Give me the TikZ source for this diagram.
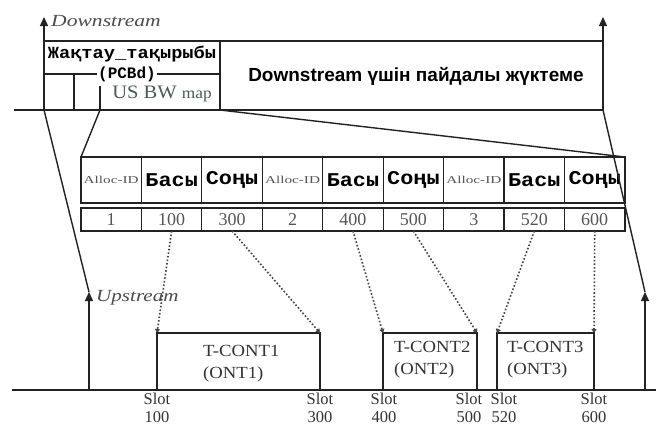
\documentclass[tikz,border=0pt]{standalone}
\usepackage{fontspec}
\setmainfont{Liberation Serif}
\newfontfamily\monofont{Liberation Mono}
\newfontfamily\sansfont{Liberation Sans}
\usetikzlibrary{arrows.meta}
\definecolor{txtgray}{HTML}{555555}
\definecolor{mapcol}{HTML}{4B5A55}
\definecolor{lncol}{HTML}{222222}
\definecolor{dotcol}{HTML}{444444}
\tikzset{
  mainline/.style={line width=1.4pt, draw=lncol},
  bigarrow/.style={mainline, -{Triangle[width=8pt,length=9pt]}},
  cellbox/.style={draw=lncol, line width=1.2pt, minimum width=60.44pt, inner sep=0pt, outer sep=0pt},
  headcell/.style={cellbox, minimum height=46pt},
  valcell/.style={cellbox, minimum height=23pt, font=\fontsize{18}{18}\selectfont, text=txtgray},
  dotarrow/.style={draw=dotcol, line width=1.6pt, dotted, -{Triangle[width=5pt,length=4pt]}},
  tcbox/.style={draw=lncol, line width=1.4pt, inner sep=0pt, outer sep=0pt, anchor=south west},
  tctext/.style={anchor=north west, align=left, inner sep=0pt, font=\fontsize{17}{22}\selectfont, text=black!80},
  slottext/.style={anchor=north, align=center, inner sep=0pt, font=\fontsize{16.5}{18}\selectfont, text=black!80},
  dirlabel/.style={anchor=west, inner sep=0pt, font=\itshape\fontsize{17}{17}\selectfont, text=black!70},
}
\begin{document}
\begin{tikzpicture}[x=1pt,y=-1pt]
\useasboundingbox (0,0) rectangle (656,429);
\fill[white] (0,0) rectangle (656,429);

% key coordinates
\coordinate (dsL) at (44,110);
\coordinate (dsLtip) at (44,17);
\coordinate (dsR) at (603,110);
\coordinate (dsRtip) at (603,17);
\coordinate (baseL) at (14,110);
\coordinate (pcbdBR) at (220,110);
\coordinate (pcbdTR) at (220,41);
\coordinate (frameTL) at (44,41);
\coordinate (frameTR) at (603,41);
\coordinate (pcL1) at (44,74);
\coordinate (pcL2) at (97,74);
\coordinate (pcR1) at (157,74);
\coordinate (pcR2) at (220,74);
\coordinate (v1t) at (74,74);
\coordinate (v1b) at (74,110);
\coordinate (v2t) at (100,86);
\coordinate (v2b) at (100,110);
\coordinate (usL) at (89,390);
\coordinate (usLtip) at (89,292);
\coordinate (usR) at (645,390);
\coordinate (usRtip) at (645,292);
\coordinate (upL) at (12,390);
\coordinate (upR) at (656,390);

% downstream frame
\draw[bigarrow] (dsL) -- (dsLtip);
\draw[bigarrow] (dsR) -- (dsRtip);
\draw[mainline] (baseL) -- (dsR);
\draw[mainline] (frameTL) -- (frameTR);
\draw[mainline] (pcbdTR) -- (pcbdBR);
\draw[mainline] (pcL1) -- (pcL2);
\draw[mainline] (pcR1) -- (pcR2);
\draw[mainline] (v1t) -- (v1b);
\draw[mainline] (v2t) -- (v2b);

\node[dirlabel] (dslabel) at (51,21) {\scalebox{1.27}[1]{Downstream}};
\node[inner sep=0pt, font=\monofont\bfseries\fontsize{17}{17}\selectfont] (pcbdtitle) at (132,54) {\scalebox{1.1}[1]{Жақтау\_тақырыбы}};
\node[inner sep=0pt, font=\monofont\bfseries\fontsize{16}{16}\selectfont] (pcbdname) at (127,74) {(PCBd)};
\node[inner sep=0pt, text=mapcol] (usbw) at (162,94) {\scalebox{1.08}[1]{\fontsize{19}{19}\selectfont US BW \fontsize{16}{16}\selectfont map}};
\node[inner sep=0pt, font=\sansfont\bfseries\fontsize{19}{19}\selectfont] (payload) at (416,76) {Downstream үшін пайдалы жүктеме};

% table
\foreach \i/\txt/\kind in {1/Alloc-ID/a,2/Басы/b,3/Соңы/b,4/Alloc-ID/a,5/Басы/b,6/Соңы/b,7/Alloc-ID/a,8/Басы/b,9/Соңы/b}{
  \if a\kind
    \node[headcell] (h\i) at ({81+60.44*(\i-0.5)},180) {\scalebox{1.45}[1]{\fontsize{10.5}{10.5}\selectfont\color{txtgray}Alloc-ID}};
  \else
    \node[headcell] (h\i) at ({81+60.44*(\i-0.5)},180) {\scalebox{1.12}[1]{\monofont\bfseries\fontsize{19.5}{19.5}\selectfont \txt}};
  \fi
}
\foreach \i/\v in {1/1,2/100,3/300,4/2,5/400,6/500,7/3,8/520,9/600}{
  \node[valcell] (v\i) at ({81+60.44*(\i-0.5)},219.5) {\v};
}

% zoom lines
\draw[mainline] (v2b) -- (h1.north west);
\draw[mainline] (pcbdBR) -- (h9.north east);
\draw[mainline] (dsL) -- (usLtip);
\draw[mainline] (dsR) -- (usRtip);

% upstream
\draw[mainline] (upL) -- (upR);
\draw[bigarrow] (usL) -- (usLtip);
\draw[bigarrow] (usR) -- (usRtip);
\node[dirlabel] (uslabel) at (96,298) {\scalebox{1.24}[1]{Upstream}};

\node[tcbox, minimum width=163pt, minimum height=57pt] (t1) at (157,390) {};
\node[tcbox, minimum width=94pt, minimum height=57pt] (t2) at (383,390) {};
\node[tcbox, minimum width=97pt, minimum height=57pt] (t3) at (497,390) {};
\node[tctext] (t1txt) at (203,345) {\scalebox{1.1}[1]{T-CONT1}\\\scalebox{1.1}[1]{(ONT1)}};
\node[tctext] (t2txt) at (394,341) {\scalebox{1.1}[1]{T-CONT2}\\\scalebox{1.1}[1]{(ONT2)}};
\node[tctext] (t3txt) at (507,341) {\scalebox{1.1}[1]{T-CONT3}\\\scalebox{1.1}[1]{(ONT3)}};

\draw[dotarrow] (v2.south) -- (t1.north west);
\draw[dotarrow] (v3.south) -- (t1.north east);
\draw[dotarrow] (v5.south) -- (t2.north west);
\draw[dotarrow] (v6.south) -- (t2.north east);
\draw[dotarrow] (v8.south) -- (t3.north west);
\draw[dotarrow] (v9.south) -- (t3.north east);

\node[slottext] (s100) at (157,393) {Slot\\100};
\node[slottext] (s300) at (320,393) {Slot\\300};
\node[slottext] (s400) at (384,393) {Slot\\400};
\node[slottext] (s500) at (469,393) {Slot\\500};
\node[slottext] (s520) at (504,393) {Slot\\520};
\node[slottext] (s600) at (594,393) {Slot\\600};
\end{tikzpicture}
\end{document}
